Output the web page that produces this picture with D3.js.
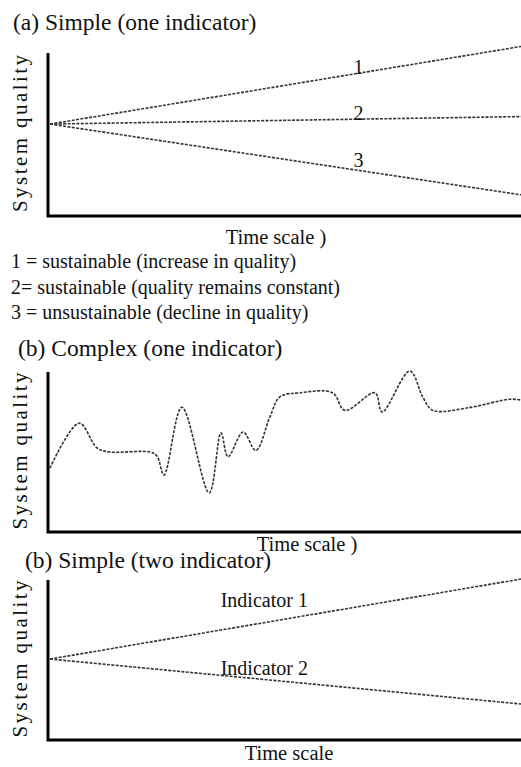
<!DOCTYPE html>
<html>
<head>
<meta charset="utf-8">
<script src="https://cdn.jsdelivr.net/npm/d3@7"></script>
<style>
  html, body { margin: 0; padding: 0; background: #fff; }
  text { font-family: 'Liberation Serif', Tinos, 'DejaVu Serif', serif; fill: #111; }
  .title { font-size: 23.5px; }
  .axis-title { font-size: 21px; }
  .x-title { font-size: 20.5px; }
  .legend { font-size: 20px; }
  .lbl { font-size: 20px; }
  .trend { fill: none; stroke: #333; stroke-width: 1.6; stroke-dasharray: 3 1.4; }
</style>
</head>
<body>
<svg id="chart" width="521" height="767"></svg>
<script>
// ── DATA ────────────────────────────────────────────────────────────────
// time runs 0..100, quality 0..100 on every panel
const timeDomain = [0, 100];
const qualityDomain = [0, 100];

// (a) simple, one indicator: start and end quality per scenario
const simpleLabels = ['1', '2', '3'];
const simpleStart = [56.4, 56.4, 56.4];
const simpleEnd = [104, 61, 13];
const simpleLabelAt = [[65.5, 87], [65.5, 59], [65.5, 30]];

const legendLines = [
  '1 = sustainable (increase in quality)',
  '2= sustainable (quality remains constant)',
  '3 = unsustainable (decline in quality)'
];

// (b) complex, one indicator
const complexTime    = [0, 6.2, 10, 12.7, 21.2, 22.7, 24.2, 28, 33.8, 36.3, 37.8, 41, 43.7, 46.7, 48.8, 53, 60, 62.6, 69, 70.5, 76.4, 79.2, 81.3, 88.5, 97.7, 100];
const complexQuality = [40, 68, 52.5, 50, 50, 47.5, 35.6, 78, 24.4, 62, 47, 62.5, 51, 72, 84.4, 87, 87, 76, 87, 75, 100.6, 84, 76, 77.5, 83, 82.5];

// (c) simple, two indicators
const twoLabels = ['Indicator 1', 'Indicator 2'];
const twoStart = [50.6, 50.6];
const twoEnd = [100.6, 22.5];
const twoLabelAt = [[45.5, 83], [45.5, 40.5]];

// ── LAYOUT ──────────────────────────────────────────────────────────────
const svg = d3.select('#chart');
const panels = [
  { title: '(a) Simple (one indicator)', tx: 13, ty: 30, top: 53, bottom: 216, xlab: 'Time scale )', xlx: 276, xly: 244 },
  { title: '(b) Complex (one indicator)', tx: 18, ty: 356, top: 372, bottom: 532, xlab: 'Time scale )', xlx: 307, xly: 551 },
  { title: '(b) Simple (two indicator)', tx: 25, ty: 568, top: 580, bottom: 740, xlab: 'Time scale', xlx: 289, xly: 760 }
];

const x = d3.scaleLinear().domain(timeDomain).range([50, 521]);
const line = d3.line().x(d => x(d[0]));

function drawFrame(p) {
  const y = d3.scaleLinear().domain(qualityDomain).range([p.bottom, p.top]);
  const g = svg.append('g');

  g.append('text').attr('class', 'title').attr('x', p.tx).attr('y', p.ty).text(p.title);

  // axes: plain thick L, no ticks
  g.append('path')
    .attr('d', `M48,${p.top}V${p.bottom}H521`)
    .attr('fill', 'none').attr('stroke', '#000').attr('stroke-width', 3);

  g.append('text').attr('class', 'axis-title')
    .attr('transform', `translate(27,${(p.top + p.bottom) / 2 - 1}) rotate(-90)`)
    .attr('text-anchor', 'middle')
    .attr('textLength', 157).attr('lengthAdjust', 'spacing')
    .text('System quality');

  g.append('text').attr('class', 'x-title')
    .attr('x', p.xlx).attr('y', p.xly).attr('text-anchor', 'middle')
    .text(p.xlab);

  return { g, y };
}

// ── PANEL A ─────────────────────────────────────────────────────────────
{
  const { g, y } = drawFrame(panels[0]);
  line.y(d => y(d[1])).curve(d3.curveLinear);
  simpleLabels.forEach((lab, i) => {
    g.append('path').attr('class', 'trend')
      .attr('d', line([[timeDomain[0], simpleStart[i]], [timeDomain[1], simpleEnd[i]]]));
    g.append('text').attr('class', 'lbl')
      .attr('x', x(simpleLabelAt[i][0])).attr('y', y(simpleLabelAt[i][1]))
      .attr('text-anchor', 'middle').text(lab);
  });

  svg.append('g').selectAll('text')
    .data(legendLines)
    .join('text').attr('class', 'legend')
    .attr('x', 11).attr('y', (d, i) => 268 + i * 25.5)
    .text(d => d);
}

// ── PANEL B ─────────────────────────────────────────────────────────────
{
  const { g, y } = drawFrame(panels[1]);
  const pts = complexTime.map((t, i) => [t, complexQuality[i]]);
  line.y(d => y(d[1])).curve(d3.curveCatmullRom.alpha(0.5));
  g.append('path').attr('class', 'trend').attr('d', line(pts));
}

// ── PANEL C ─────────────────────────────────────────────────────────────
{
  const { g, y } = drawFrame(panels[2]);
  line.y(d => y(d[1])).curve(d3.curveLinear);
  twoLabels.forEach((lab, i) => {
    g.append('path').attr('class', 'trend')
      .attr('d', line([[timeDomain[0], twoStart[i]], [timeDomain[1], twoEnd[i]]]));
    g.append('text').attr('class', 'lbl')
      .attr('x', x(twoLabelAt[i][0])).attr('y', y(twoLabelAt[i][1]))
      .attr('text-anchor', 'middle').text(lab);
  });
}
</script>
</body>
</html>
